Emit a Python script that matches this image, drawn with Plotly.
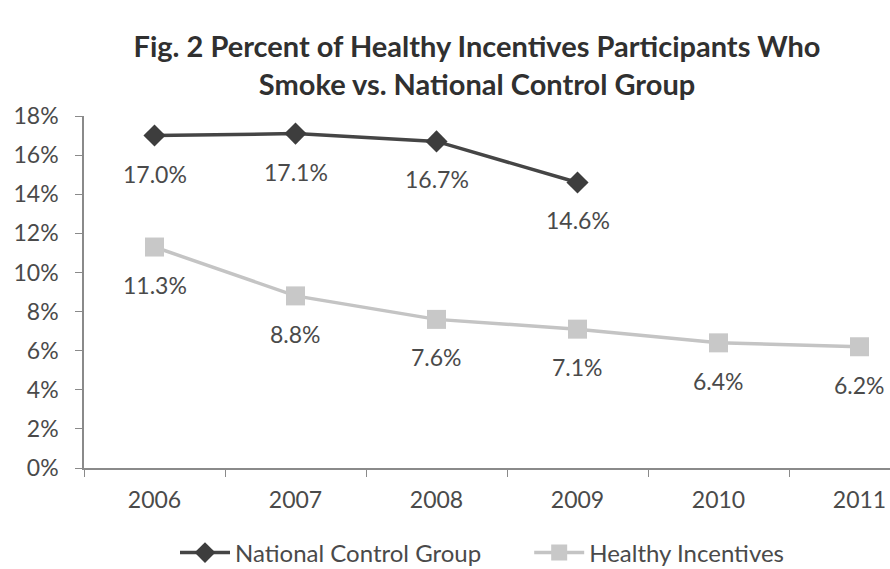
import plotly.graph_objects as go

years = ["2006", "2007", "2008", "2009", "2010", "2011"]
national_years = ["2006", "2007", "2008", "2009"]
national = [0.170, 0.171, 0.167, 0.146]
healthy_years = ["2006", "2007", "2008", "2009", "2010", "2011"]
healthy = [0.113, 0.088, 0.076, 0.071, 0.064, 0.062]
y_ticks = [0, 0.02, 0.04, 0.06, 0.08, 0.10, 0.12, 0.14, 0.16, 0.18]

FONT = "Lato"
TXT = "#4a4a4a"
PAD = "\u00a0" * 7

fig = go.Figure()
fig.add_trace(go.Scatter(
    x=national_years, y=national, mode="lines+markers", name="National Control Group" + PAD,
    line=dict(color="#454545", width=3.5),
    marker=dict(symbol="diamond", size=17, color="#3d3d3d"),
))
fig.add_trace(go.Scatter(
    x=healthy_years, y=healthy, mode="lines+markers", name="Healthy Incentives",
    line=dict(color="#c4c4c4", width=3.5),
    marker=dict(symbol="square", size=19, color="#c8c8c8"),
))

annotations = []
for xs, ys in ((national_years, national), (healthy_years, healthy)):
    for xv, yv in zip(xs, ys):
        annotations.append(dict(
            x=years.index(xv), y=yv, xref="x", yref="y", text=f"{yv*100:.1f}%",
            showarrow=False, yshift=-38, font=dict(family=FONT, size=23, color=TXT),
        ))

fig.update_layout(
    width=890, height=569,
    paper_bgcolor="white", plot_bgcolor="white",
    margin=dict(l=84, r=0, t=116, b=101),
    title=dict(
        text="<b>Fig. 2 Percent of Healthy Incentives Participants Who<br>Smoke vs. National Control Group</b>",
        x=0.536, xref="container", xanchor="center",
        y=1 - 57 / 569, yref="container", yanchor="middle",
        font=dict(family=FONT, size=29, color="#303030"),
    ),
    annotations=annotations,
    showlegend=True,
    legend=dict(
        orientation="h", xref="container", x=482 / 890, xanchor="center",
        yref="container", y=1 - 553 / 569, yanchor="middle",
        font=dict(family=FONT, size=24, color=TXT), itemwidth=50,
    ),
    font=dict(family=FONT, color=TXT),
)
fig.update_xaxes(
    type="category", categoryorder="array", categoryarray=years,
    range=[-0.5, -0.5 + 806 / 141],
    showline=True, linecolor="#8a8a8a", linewidth=1.5,
    ticks="outside", tickson="boundaries", ticklen=7, tickcolor="#8a8a8a",
    showgrid=False, zeroline=False, ticklabelstandoff=11,
    tickfont=dict(family=FONT, size=23, color=TXT),
)
fig.update_yaxes(
    range=[0, 0.18], tickvals=y_ticks, tickformat=".0%",
    showline=True, linecolor="#8a8a8a", linewidth=1.5,
    ticks="outside", ticklen=7, tickcolor="#8a8a8a",
    showgrid=False, zeroline=False, ticklabelstandoff=12,
    tickfont=dict(family=FONT, size=23, color=TXT),
)

fig.write_html("out.html")
